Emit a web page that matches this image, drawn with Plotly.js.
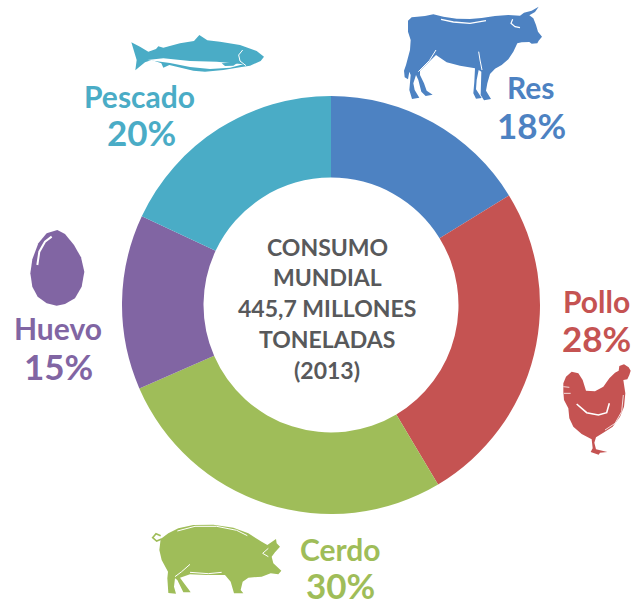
<!DOCTYPE html>
<html><head><meta charset="utf-8">
<script src="https://cdn.plot.ly/plotly-3.0.1.min.js"></script>
<style>html,body{margin:0;padding:0;background:#fff}#c{width:640px;height:602px}</style>
</head><body><div id="c"></div>
<script>
const categories = ['Res','Pollo','Cerdo','Huevo','Pescado'];
const shares = [18,28,30,15,20];
const sliceColors = ['#4d82c2','#c55352','#9fbd59','#8165a3','#4aacc6'];
const centerLines = ['CONSUMO','MUNDIAL','445,7 MILLONES','TONELADAS','(2013)'];
const W=640,H=602;
const px=x=>x/W, py=y=>1-y/H;

function outline(ox,oy,pts,s){
  s=s||1/3;
  return 'M'+pts.map(p=>px(ox+p[0]*s).toFixed(5)+','+py(oy+p[1]*s).toFixed(5)).join('L')+'Z';
}
function icon(path,color){return {type:'path',xref:'paper',yref:'paper',path:path,fillcolor:color,line:{width:0},layer:'above'};}
function stroke(path,color,w){return {type:'path',xref:'paper',yref:'paper',path:path,line:{color:color,width:w},layer:'above'};}
function openLine(ox,oy,pts,s){s=s||1/3;return 'M'+pts.map(p=>px(ox+p[0]*s).toFixed(5)+','+py(oy+p[1]*s).toFixed(5)).join('L');}

const bull=[[84,62],[95,52],[112,50],[135,48],[160,43],[190,50],[230,56],[270,57],[305,54],[345,48],[385,45],[420,47],[432,38],[455,32],[476,20],[465,36],[448,46],[460,55],[468,75],[474,95],[486,110],[476,122],[472,130],[455,131],[448,126],[425,127],[412,130],[400,155],[385,178],[365,195],[345,206],[330,222],[322,250],[318,272],[333,297],[312,301],[302,285],[304,215],[296,210],[290,240],[288,268],[305,294],[288,296],[280,280],[283,245],[285,205],[240,197],[200,187],[168,165],[120,212],[120,225],[132,250],[140,272],[158,284],[137,288],[124,275],[115,240],[108,225],[100,250],[104,270],[118,293],[96,297],[88,270],[92,225],[88,215],[84,238],[74,232],[72,212],[78,195],[90,150],[92,120],[84,95]];
const fish=[[184,52],[210,65],[235,80],[258,72],[265,64],[280,68],[330,55],[372,48],[388,30],[412,46],[450,50],[510,60],[560,78],[582,95],[572,108],[540,122],[510,127],[460,135],[405,140],[370,137],[320,125],[298,120],[280,128],[274,115],[245,105],[225,112],[196,136],[200,105]];
const fishBelly=[[232,105],[280,100],[360,108],[440,110],[520,118],[480,128],[420,132],[360,126],[300,114]];
const hen=[[70,310],[78,290],[95,275],[115,280],[128,300],[138,332],[165,334],[190,320],[208,295],[225,278],[236,272],[238,258],[252,253],[266,262],[272,272],[268,285],[262,298],[250,300],[256,340],[252,380],[240,410],[218,440],[190,458],[168,472],[163,488],[168,508],[202,516],[180,518],[176,524],[152,516],[158,505],[155,478],[125,462],[100,440],[88,415],[85,385],[72,360],[70,335]];
const pig=[[62,72],[85,55],[115,40],[160,30],[220,29],[280,38],[325,55],[365,80],[382,90],[408,72],[410,85],[420,95],[405,112],[395,125],[400,145],[424,167],[415,178],[392,175],[365,185],[325,188],[308,200],[302,225],[310,235],[282,235],[272,200],[255,180],[200,180],[150,178],[120,188],[132,205],[145,222],[152,232],[130,232],[112,195],[105,190],[102,215],[108,236],[85,234],[82,190],[84,170],[65,135],[58,105]];
const eggPts=[[172,30],[195,42],[222,75],[243,112],[253,155],[245,200],[225,235],[195,252],[170,257],[140,250],[113,230],[97,200],[91,160],[97,118],[115,70],[140,40]];

const shapes=[
 icon(outline(380,0,bull),sliceColors[0]),
 stroke(openLine(380,0,[[183,58],[220,66],[270,70],[318,62]]),'#fff',1.3),
 stroke(openLine(380,0,[[398,58],[393,70],[405,80],[420,83]]),'#fff',1.2),
 stroke(openLine(380,0,[[168,150],[148,182],[115,215]]),'#fff',1),
 stroke(openLine(380,0,[[296,155],[300,180],[306,210]]),'#fff',1),
 icon(outline(70,25,fish),sliceColors[4]),
 icon(outline(70,25,fishBelly),'#fff'),
 icon(outline(70,25,[[455,115],[505,112],[490,122],[465,123]]),sliceColors[4]),
 stroke(openLine(70,25,[[518,75],[506,90],[510,108],[528,122]]),'#fff',1),
 icon(outline(540,280,hen),sliceColors[1]),
 stroke(openLine(540,280,[[110,372],[140,398],[175,405],[200,398],[208,370]]),'#fff',1.6),
 stroke(openLine(540,280,[[250,345],[245,395],[225,430],[195,450]]),'#fff',0.8),
 stroke(openLine(540,280,[[70,320],[88,322]]),'#fff',0.8),
 stroke(openLine(540,280,[[72,340],[92,340]]),'#fff',0.8),
 icon(outline(140,515,pig),sliceColors[2]),
 stroke(openLine(140,515,[[112,48],[165,34],[230,34],[290,46],[322,62]]),'#fff',1),
 stroke(openLine(140,515,[[150,172],[205,176],[245,172]]),'#fff',1),
 stroke(openLine(140,515,[[150,148],[125,170],[105,185]]),'#fff',1),
 stroke(openLine(140,515,[[385,100],[368,115],[385,125]]),'#fff',1),
 stroke(openLine(140,515,[[65,72],[50,78],[38,68],[48,56],[62,62]]),sliceColors[2],1.6),
 icon(outline(0,220,eggPts),sliceColors[3]),
 stroke(openLine(0,220,[[112,135],[118,95],[135,65],[155,50]]),'#fff',2)
];

function label(t,x,y,size,color){
  return {text:'<b>'+t+'</b>',x:px(x),y:py(y),xref:'paper',yref:'paper',xanchor:'center',yanchor:'middle',showarrow:false,
    font:{family:'Lato, sans-serif',size:size,color:color}};
}
const labelSpots=[[531,87,531,125],[596,301,596,338],[340,549,340,585],[58,328,58,366],[139,96,141,132]];
const annotations=[];
categories.forEach((c,i)=>{
  const s=labelSpots[i];
  annotations.push(label(c,s[0],s[1],30,sliceColors[i]));
  annotations.push(label(shares[i]+'%',s[2],s[3],35,sliceColors[i]));
});
const centerY=[247,277,308,339,370];
centerLines.forEach((t,i)=>annotations.push(label(t,327,centerY[i],23,'#58595b')));

Plotly.newPlot('c',[{
  type:'pie',labels:categories,values:shares,hole:0.61,sort:false,direction:'clockwise',rotation:0,
  marker:{colors:sliceColors,line:{width:0}},textinfo:'none',hoverinfo:'label+percent',
  domain:{x:[122/W,540/W],y:[1-514/H,1-96/H]}
}],{
  width:W,height:H,margin:{l:0,r:0,t:0,b:0},paper_bgcolor:'#fff',showlegend:false,
  shapes:shapes,annotations:annotations
},{displayModeBar:false,staticPlot:true});
</script></body></html>
